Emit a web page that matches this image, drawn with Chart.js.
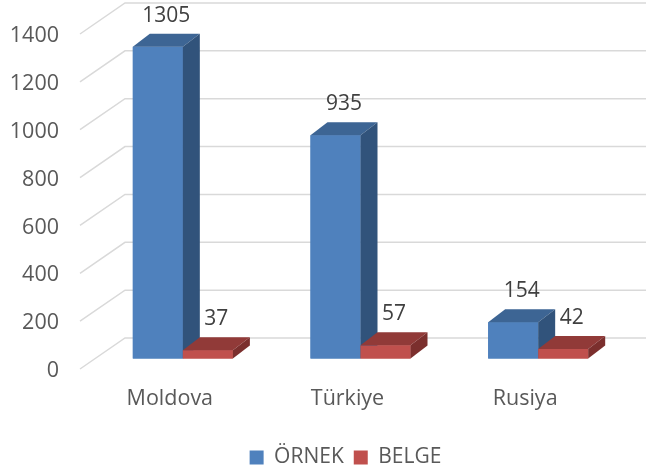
<!DOCTYPE html>
<html>
<head>
<meta charset="utf-8">
<script src="https://cdn.jsdelivr.net/npm/chart.js@4/dist/chart.umd.min.js"></script>
<style>
  body { margin: 0; background: #fff; }
  #wrap { width: 649px; height: 472px; position: relative; }
</style>
</head>
<body>
<div id="wrap"><canvas id="chart"></canvas></div>
<script>
// data
const categories = ["Moldova", "Türkiye", "Rusiya"];
const seriesNames = ["ÖRNEK", "BELGE"];
const ornekValues = [1305, 935, 154];
const belgeValues = [37, 57, 42];
const yMin = 0;
const yMax = 1400;
const yStep = 200;

// colours: front, top, side
const frontColors = ["#4F81BD", "#C0504D"];
const topColors = ["#3D6594", "#913A38"];
const sideColors = ["#31537B", "#7B2F2D"];

// fake 3d depth of the bars and of the walls
const DX = 17;
const DY = -13;
const WALL_LEFT = 80;
const WALL_BACK = 125;
const FRONT_OFF = 10; // front edge of the floor sits below the bar base
const BACK_OFF = -21; // back wall sits above the bar base
const LEGEND_SHIFT = 32; // legend is not centred on the canvas in the original

const FONT = "'Open Sans', 'DejaVu Sans', sans-serif";

// walls + gridlines, drawn under the bars
const wallPlugin = {
  id: "wall",
  afterLayout(chart) {
    chart.legend.left += LEGEND_SHIFT;
    chart.legend.right += LEGEND_SHIFT;
  },
  beforeDatasetsDraw(chart) {
    const ctx = chart.ctx;
    const y = chart.scales.y;
    ctx.save();
    ctx.strokeStyle = "#D9D9D9";
    ctx.lineWidth = 1.5;
    for (let v = yMin; v <= yMax; v += yStep) {
      const p = y.getPixelForValue(v);
      ctx.beginPath();
      ctx.moveTo(WALL_LEFT, p + FRONT_OFF);
      ctx.lineTo(WALL_BACK, p + BACK_OFF);
      ctx.lineTo(chart.width - 3, p + BACK_OFF);
      ctx.stroke();
    }
    ctx.restore();
  },
};

// front, top and side faces of every bar, plus value labels
const boxPlugin = {
  id: "box3d",
  afterDatasetsDraw(chart) {
    const ctx = chart.ctx;
    ctx.save();
    for (let c = 0; c < categories.length; c++) {
      chart.data.datasets.forEach((ds, di) => {
        const el = chart.getDatasetMeta(di).data[c];
        const l = el.x - el.width / 2;
        const r = el.x + el.width / 2;
        const t = el.y;
        const b = el.base;

        ctx.fillStyle = frontColors[di];
        ctx.fillRect(l, t, r - l, b - t);

        ctx.fillStyle = topColors[di];
        ctx.beginPath();
        ctx.moveTo(l, t);
        ctx.lineTo(l + DX, t + DY);
        ctx.lineTo(r + DX, t + DY);
        ctx.lineTo(r, t);
        ctx.closePath();
        ctx.fill();

        ctx.fillStyle = sideColors[di];
        ctx.beginPath();
        ctx.moveTo(r, t);
        ctx.lineTo(r + DX, t + DY);
        ctx.lineTo(r + DX, b + DY);
        ctx.lineTo(r, b);
        ctx.closePath();
        ctx.fill();
      });
    }
    ctx.fillStyle = "#404040";
    ctx.font = "21px " + FONT;
    ctx.textAlign = "center";
    ctx.textBaseline = "middle";
    chart.data.datasets.forEach((ds, di) => {
      chart.getDatasetMeta(di).data.forEach((el, i) => {
        ctx.fillText(ds.data[i], el.x + DX / 2, el.y + DY - 18);
      });
    });
    ctx.restore();
  },
};

new Chart(document.getElementById("chart"), {
  type: "bar",
  data: {
    labels: categories,
    datasets: [
      { label: seriesNames[0], data: ornekValues, backgroundColor: frontColors[0] },
      { label: seriesNames[1], data: belgeValues, backgroundColor: frontColors[1] },
    ],
  },
  options: {
    responsive: true,
    maintainAspectRatio: false,
    animation: false,
    barPercentage: 1,
    categoryPercentage: 0.563,
    layout: { padding: { top: 24, right: 22, left: 0, bottom: -6 } },
    scales: {
      x: {
        grid: { display: false },
        border: { display: false },
        ticks: {
          color: "#595959",
          font: { family: FONT, size: 21.5 },
          labelOffset: -13,
          padding: 19,
        },
        afterFit(scale) {
          scale.height = 78;
        },
      },
      y: {
        min: yMin,
        max: yMax,
        // invisible tick marks push the labels left without adding top padding
        grid: {
          display: true,
          drawOnChartArea: false,
          drawTicks: true,
          tickLength: 35,
          color: "rgba(0,0,0,0)",
        },
        border: { display: false },
        ticks: {
          stepSize: yStep,
          color: "#595959",
          font: { family: FONT, size: 21.5 },
          padding: 0,
          labelOffset: FRONT_OFF + 2,
          callback: (v) => String(v),
        },
        afterFit(scale) {
          scale.width = 94;
        },
      },
    },
    plugins: {
      legend: {
        position: "bottom",
        labels: {
          color: "#595959",
          font: { family: FONT, size: 21 },
          boxWidth: 14,
          boxHeight: 14,
          padding: 10,
        },
      },
      tooltip: { enabled: false },
    },
  },
  plugins: [wallPlugin, boxPlugin],
});
</script>
</body>
</html>
